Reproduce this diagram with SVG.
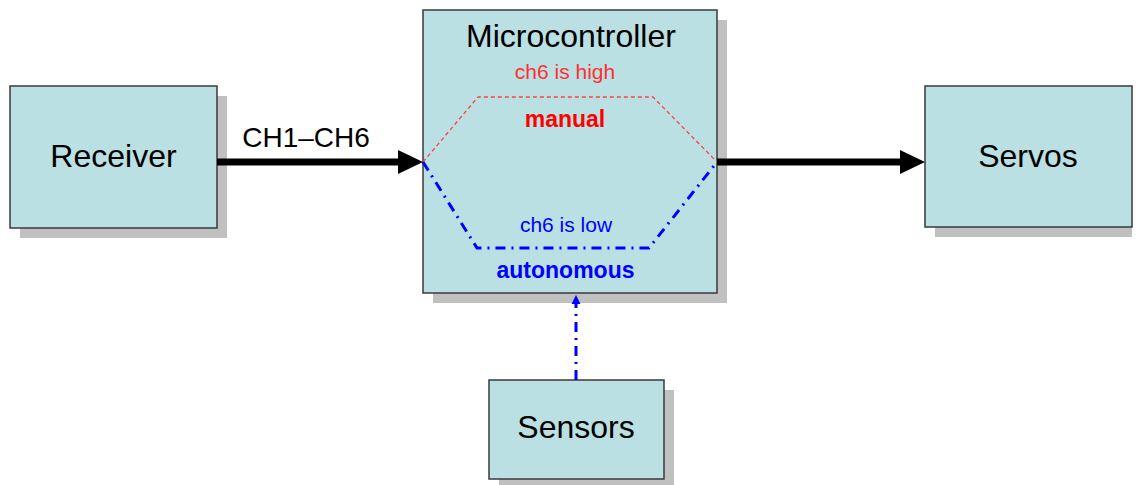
<svg xmlns="http://www.w3.org/2000/svg" width="1136" height="485" viewBox="0 0 1136 485">
<style>
.shadow{fill:#c0c0c0}
.box{fill:#bae0e3;stroke:#3a3a3a;stroke-width:1.5}
.lbl{font-family:"Liberation Sans",Arial,sans-serif;font-size:32px;fill:#000;text-anchor:middle}
.small{font-family:"Liberation Sans",Arial,sans-serif;font-size:21px;text-anchor:middle}
.bold{font-family:"Liberation Sans",Arial,sans-serif;font-size:23px;font-weight:bold;text-anchor:middle}
.thick{stroke:#000;stroke-width:7;fill:none}
.red{stroke:#ff4040;stroke-width:1.3;fill:none;stroke-dasharray:4 3}
.blue{stroke:#0000ff;stroke-width:3;fill:none;stroke-dasharray:10 6 2 6}
</style>
<defs>
<marker id="ah" markerUnits="userSpaceOnUse" markerWidth="26" markerHeight="26" refX="2" refY="12" orient="auto" overflow="visible">
<path d="M0,0 L25,12 L0,24 Z" fill="#000"/>
</marker>
<marker id="bh" markerUnits="userSpaceOnUse" markerWidth="10" markerHeight="10" refX="1" refY="4.5" orient="auto" overflow="visible">
<path d="M0,0 L9,4.5 L0,9 Z" fill="#0000ff"/>
</marker>
</defs>
<g id="receiver">
<rect class="shadow" x="20" y="96" width="207" height="142"/>
<rect class="box" x="10" y="86" width="207" height="142"/>
<text class="lbl" x="113.5" y="167">Receiver</text>
</g>
<g id="microcontroller">
<rect class="shadow" x="433" y="20" width="294" height="283"/>
<rect class="box" x="423" y="10" width="294" height="283"/>
<text class="lbl" x="571" y="47">Microcontroller</text>
<path class="red" d="M423,162 L478,97 L653,97 L717,162"/>
<path class="blue" d="M423,162 L477,248 L649,248 L717,162"/>
<text class="small" x="565" y="79" fill="#ff3030">ch6 is high</text>
<text class="bold" x="565" y="127" fill="#ff0000">manual</text>
<text class="small" x="566" y="232" fill="#0000ff">ch6 is low</text>
<text class="bold" x="565.5" y="278" fill="#0000ff">autonomous</text>
</g>
<g id="servos">
<rect class="shadow" x="935" y="96" width="197" height="141"/>
<rect class="box" x="925" y="86" width="207" height="141"/>
<text class="lbl" x="1028" y="167">Servos</text>
</g>
<g id="sensors">
<rect class="shadow" x="499" y="390" width="175" height="95"/>
<rect class="box" x="489" y="380" width="175" height="99"/>
<text class="lbl" x="576" y="438">Sensors</text>
</g>
<g id="connectors">
<line class="thick" x1="217" y1="162" x2="400" y2="162" marker-end="url(#ah)"/>
<text x="306" y="147" font-family="Liberation Sans,Arial,sans-serif" font-size="28" text-anchor="middle">CH1–CH6</text>
<line class="thick" x1="717" y1="162" x2="902" y2="162" marker-end="url(#ah)"/>
<line class="blue" x1="576" y1="380" x2="576" y2="303" marker-end="url(#bh)"/>
</g>
</svg>
